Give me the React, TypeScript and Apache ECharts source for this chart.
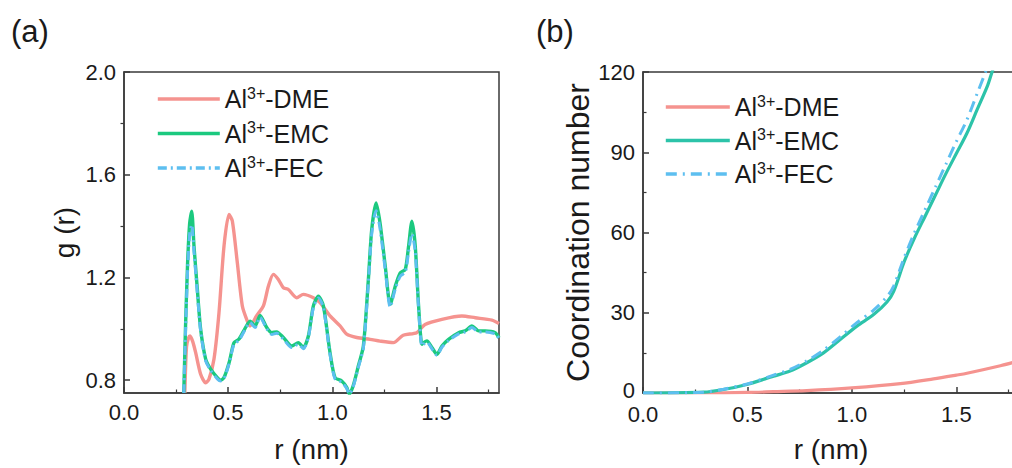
import React, { useEffect, useRef } from "react";
import * as echarts from "echarts";

// ---------- Panel (a): radial distribution function g(r) ----------
const R_DME_A = [0.292, 0.3, 0.31, 0.317, 0.33, 0.344, 0.368, 0.392, 0.408, 0.432, 0.456, 0.48, 0.504, 0.52, 0.544, 0.568, 0.592, 0.605, 0.636, 0.669, 0.693, 0.717, 0.741, 0.765, 0.789, 0.829, 0.861, 0.909, 0.941, 0.989, 1.037, 1.069, 1.117, 1.181, 1.229, 1.293, 1.34, 1.405, 1.445, 1.526, 1.622, 1.686, 1.766, 1.8];
const G_DME_A = [0.75, 0.93, 0.965, 0.972, 0.95, 0.907, 0.823, 0.79, 0.804, 0.882, 1.063, 1.322, 1.445, 1.42, 1.257, 1.089, 1.03, 1.011, 1.05, 1.089, 1.166, 1.212, 1.192, 1.16, 1.153, 1.121, 1.134, 1.121, 1.102, 1.05, 1.011, 0.979, 0.966, 0.959, 0.952, 0.946, 0.975, 0.985, 1.017, 1.037, 1.05, 1.043, 1.034, 1.021];

const R_EMC_A = [0.287, 0.295, 0.305, 0.315, 0.325, 0.336, 0.352, 0.368, 0.392, 0.416, 0.448, 0.464, 0.48, 0.505, 0.528, 0.552, 0.58, 0.605, 0.629, 0.653, 0.685, 0.709, 0.733, 0.765, 0.805, 0.837, 0.861, 0.885, 0.909, 0.933, 0.957, 0.989, 1.013, 1.045, 1.069, 1.082, 1.1, 1.125, 1.149, 1.173, 1.189, 1.21, 1.229, 1.254, 1.278, 1.302, 1.326, 1.35, 1.366, 1.382, 1.398, 1.414, 1.43, 1.438, 1.454, 1.478, 1.502, 1.526, 1.558, 1.606, 1.638, 1.67, 1.702, 1.734, 1.782, 1.8];
const G_EMC_A = [0.75, 1.0, 1.25, 1.41, 1.458, 1.322, 1.154, 0.998, 0.882, 0.843, 0.81, 0.8, 0.81, 0.87, 0.946, 0.96, 1.0, 1.03, 1.011, 1.052, 1.005, 0.985, 0.988, 0.966, 0.933, 0.946, 0.927, 0.972, 1.089, 1.127, 1.089, 0.907, 0.81, 0.797, 0.772, 0.746, 0.778, 0.856, 0.933, 1.192, 1.386, 1.49, 1.412, 1.244, 1.095, 1.166, 1.218, 1.231, 1.322, 1.419, 1.322, 1.089, 0.94, 0.946, 0.953, 0.927, 0.901, 0.933, 0.959, 0.985, 0.992, 1.011, 0.992, 0.992, 0.985, 0.965];

const R_FEC_A = [0.287, 0.295, 0.305, 0.315, 0.325, 0.336, 0.352, 0.368, 0.392, 0.416, 0.448, 0.464, 0.48, 0.505, 0.528, 0.552, 0.58, 0.605, 0.629, 0.653, 0.685, 0.709, 0.733, 0.765, 0.805, 0.837, 0.861, 0.885, 0.909, 0.933, 0.957, 0.989, 1.013, 1.045, 1.069, 1.082, 1.1, 1.125, 1.149, 1.173, 1.189, 1.21, 1.229, 1.254, 1.278, 1.302, 1.326, 1.35, 1.366, 1.382, 1.398, 1.414, 1.43, 1.438, 1.454, 1.478, 1.502, 1.526, 1.558, 1.606, 1.638, 1.67, 1.702, 1.734, 1.782, 1.8];
const G_FEC_A = [0.75, 0.98, 1.22, 1.37, 1.405, 1.3, 1.14, 0.99, 0.875, 0.838, 0.805, 0.797, 0.806, 0.866, 0.94, 0.955, 0.995, 1.025, 1.005, 1.045, 1.0, 0.978, 0.983, 0.96, 0.927, 0.94, 0.922, 0.967, 1.082, 1.12, 1.083, 0.9, 0.805, 0.792, 0.768, 0.746, 0.774, 0.85, 0.926, 1.18, 1.37, 1.46, 1.39, 1.23, 1.085, 1.155, 1.205, 1.22, 1.3, 1.37, 1.3, 1.08, 0.933, 0.94, 0.948, 0.922, 0.897, 0.928, 0.954, 0.98, 0.988, 1.005, 0.988, 0.988, 0.98, 0.962];

// ---------- Panel (b): coordination number ----------
const R_DME_B = [0, 0.3, 0.5, 0.625, 0.784, 1.0, 1.232, 1.391, 1.5, 1.551, 1.711, 1.8];
const N_DME_B = [0, 0, 0.2, 0.5, 0.9, 1.9, 3.5, 5.3, 6.7, 7.4, 10.2, 12];

const R_EMC_B = [0, 0.289, 0.385, 0.497, 0.625, 0.704, 0.784, 0.864, 0.944, 1.024, 1.104, 1.168, 1.2, 1.25, 1.3, 1.35, 1.4, 1.45, 1.5, 1.55, 1.6, 1.65, 1.671, 1.69];
const N_EMC_B = [0, 0.3, 1.3, 3.2, 6.3, 8.2, 11.3, 15, 20, 25, 29.3, 34, 38, 49, 58, 66, 74, 82, 89.5, 97, 106, 115, 120, 124];

const R_FEC_B = [0, 0.29, 0.385, 0.5, 0.625, 0.704, 0.784, 0.864, 0.944, 1.024, 1.104, 1.168, 1.2, 1.25, 1.3, 1.35, 1.4, 1.45, 1.5, 1.55, 1.6, 1.64, 1.66];
const N_FEC_B = [0, 0.3, 1.4, 3.4, 6.7, 8.8, 12, 16, 21, 26.3, 31, 36, 40, 50.5, 60, 68.5, 77, 85.5, 94, 102, 112, 120, 124];

// ---------- Axis ticks / labels ----------
const X_MAJOR = [0, 0.5, 1.0, 1.5];
const X_MINOR = [0.25, 0.75, 1.25, 1.75];
const GA_MAJOR = [0.8, 1.2, 1.6, 2.0];
const GA_MINOR = [1.0, 1.4, 1.8];

const LABELS: Record<string, string[]> = {
  DME: ["Al", "3+", "-DME"],
  EMC: ["Al", "3+", "-EMC"],
  FEC: ["Al", "3+", "-FEC"],
};

const FONT = "Liberation Sans, Arial, Helvetica, sans-serif";
const PINK = "#F5938F";
const GREEN_A = "#1BC97F";
const TEAL_B = "#2CC3A9";
const BLUE = "#5DBFF0";
const AXIS = "#3a3a3a";
const TXT = "#1a1a1a";

const pairs = (xs: number[], ys: number[]) => xs.map((x, i) => [x, ys[i]]);

export default function App() {
  const ref = useRef<HTMLDivElement>(null);
  useEffect(() => {
    if (!ref.current) return;
    const chart = echarts.init(ref.current, undefined, { renderer: "svg" });

    const axisLine = { show: true, onZero: false, lineStyle: { color: AXIS, width: 1.5 } };
    const labelStyle = { fontSize: 22, color: TXT, fontFamily: FONT };
    const nameStyle = { fontSize: 28, color: TXT, fontFamily: FONT };

    const xBase = (grid: number, margin: number) => ({
      type: "value",
      gridIndex: grid,
      min: 0,
      max: 1.8,
      position: "bottom",
      axisLine,
      splitLine: { show: false },
      axisTick: { inside: true, length: 6, customValues: X_MAJOR, lineStyle: { color: AXIS, width: 1.5 } },
      axisLabel: { ...labelStyle, margin, lineHeight: 18, customValues: X_MAJOR, formatter: (v: number) => v.toFixed(1) },
      name: "r (nm)",
      nameLocation: "middle",
      nameGap: 42,
      nameTextStyle: nameStyle,
    });
    const xMinor = (grid: number) => ({
      type: "value",
      gridIndex: grid,
      min: 0,
      max: 1.8,
      position: "bottom",
      axisLine: { show: false },
      splitLine: { show: false },
      axisLabel: { show: false },
      axisTick: { inside: true, length: 3.5, customValues: X_MINOR, lineStyle: { color: AXIS, width: 1.2 } },
    });

    const legendText = (map: Record<string, string>) => ({
      formatter: (name: string) => {
        const parts = LABELS[map[name]];
        return `{n|${parts[0]}}{s|${parts[1]}}{n|${parts[2]}}`;
      },
      textStyle: {
        rich: {
          n: { fontSize: 25, color: TXT, fontFamily: FONT, lineHeight: 28 },
          s: { fontSize: 16, color: TXT, fontFamily: FONT, verticalAlign: "top", lineHeight: 17 },
        },
      },
    });

    const option: any = {
      animation: false,
      backgroundColor: "#ffffff",
      graphic: [
        { type: "text", left: 11, top: 16, style: { text: "(a)", fontSize: 31, fill: TXT, fontFamily: FONT } },
        { type: "text", left: 536, top: 16, style: { text: "(b)", fontSize: 31, fill: TXT, fontFamily: FONT } },
      ],
      grid: [
        { left: 124, top: 72, width: 375, height: 321, show: true, borderColor: AXIS, borderWidth: 1.5, backgroundColor: "transparent" },
        { left: 643, top: 72, width: 376, height: 321, show: true, borderColor: AXIS, borderWidth: 1.5, backgroundColor: "transparent" },
      ],
      xAxis: [xBase(0, 10), xMinor(0), xBase(1, 12), xMinor(1)],
      yAxis: [
        {
          type: "value",
          gridIndex: 0,
          min: 0.75,
          max: 2.0,
          axisLine,
          splitLine: { show: false },
          axisTick: { inside: true, length: 6, customValues: GA_MAJOR, lineStyle: { color: AXIS, width: 1.5 } },
          axisLabel: { ...labelStyle, margin: 8, customValues: GA_MAJOR, formatter: (v: number) => v.toFixed(1) },
          name: "g (r)",
          nameLocation: "middle",
          nameGap: 46,
          nameTextStyle: nameStyle,
        },
        {
          type: "value",
          gridIndex: 0,
          min: 0.75,
          max: 2.0,
          axisLine: { show: false },
          splitLine: { show: false },
          axisLabel: { show: false },
          axisTick: { inside: true, length: 3.5, customValues: GA_MINOR, lineStyle: { color: AXIS, width: 1.2 } },
        },
        {
          type: "value",
          gridIndex: 1,
          min: 0,
          max: 120,
          interval: 30,
          axisLine,
          splitLine: { show: false },
          axisTick: { inside: true, length: 6, lineStyle: { color: AXIS, width: 1.5 } },
          minorTick: { show: true, splitNumber: 2, length: 3.5, lineStyle: { color: AXIS, width: 1.2 } },
          minorSplitLine: { show: false },
          axisLabel: {
            ...labelStyle,
            margin: 8,
            lineHeight: 16,
            formatter: (v: number) => (v === 0 ? "{z|0}" : String(v)),
            rich: { z: { fontSize: 22, color: TXT, fontFamily: FONT, lineHeight: 16, padding: [0, 0, 5, 0] } },
          },
          name: "Coordination number",
          nameLocation: "middle",
          nameGap: 47,
          nameTextStyle: { ...nameStyle, fontSize: 32 },
        },
      ],
      legend: [
        {
          data: [{ name: "a-DME" }, { name: "a-EMC" }, { name: "a-FEC" }],
          orient: "vertical",
          left: 151,
          top: 80,
          itemWidth: 62,
          itemHeight: 14,
          itemGap: 8,
          itemStyle: { opacity: 0 },
          lineStyle: { width: 3.6 },
          ...legendText({ "a-DME": "DME", "a-EMC": "EMC", "a-FEC": "FEC" }),
        },
        {
          data: [{ name: "b-DME" }, { name: "b-EMC" }, { name: "b-FEC" }],
          orient: "vertical",
          left: 659,
          top: 88,
          itemWidth: 64,
          itemHeight: 14,
          itemGap: 7,
          itemStyle: { opacity: 0 },
          lineStyle: { width: 3.6 },
          ...legendText({ "b-DME": "DME", "b-EMC": "EMC", "b-FEC": "FEC" }),
        },
      ],
      series: [
        {
          name: "a-DME", type: "line", xAxisIndex: 0, yAxisIndex: 0, data: pairs(R_DME_A, G_DME_A),
          showSymbol: false, symbol: "none", smooth: 0.25, color: PINK, lineStyle: { color: PINK, width: 3.4 },
        },
        {
          name: "a-EMC", type: "line", xAxisIndex: 0, yAxisIndex: 0, data: pairs(R_EMC_A, G_EMC_A),
          showSymbol: false, symbol: "none", smooth: 0.25, color: GREEN_A, lineStyle: { color: GREEN_A, width: 3.4 },
        },
        {
          name: "a-FEC", type: "line", xAxisIndex: 0, yAxisIndex: 0, data: pairs(R_FEC_A, G_FEC_A),
          showSymbol: false, symbol: "none", smooth: 0.25, color: BLUE, lineStyle: { color: BLUE, width: 3, type: [9, 4, 2, 4] },
        },
        {
          name: "b-DME", type: "line", xAxisIndex: 2, yAxisIndex: 2, data: pairs(R_DME_B, N_DME_B),
          showSymbol: false, symbol: "none", smooth: 0.3, color: PINK, lineStyle: { color: PINK, width: 3.2 },
        },
        {
          name: "b-EMC", type: "line", xAxisIndex: 2, yAxisIndex: 2, data: pairs(R_EMC_B, N_EMC_B),
          showSymbol: false, symbol: "none", smooth: 0.3, color: TEAL_B, lineStyle: { color: TEAL_B, width: 3.2 },
        },
        {
          name: "b-FEC", type: "line", xAxisIndex: 2, yAxisIndex: 2, data: pairs(R_FEC_B, N_FEC_B),
          showSymbol: false, symbol: "none", smooth: 0.3, color: BLUE, lineStyle: { color: BLUE, width: 3, type: [11, 6, 2, 6] },
        },
      ],
    };
    chart.setOption(option);
    return () => chart.dispose();
  }, []);

  return (
    <div style={{ position: "fixed", left: 0, top: 0, width: 1012, height: 468, overflow: "hidden", background: "#fff" }}>
      <div ref={ref} style={{ width: 1030, height: 468 }} />
    </div>
  );
}
